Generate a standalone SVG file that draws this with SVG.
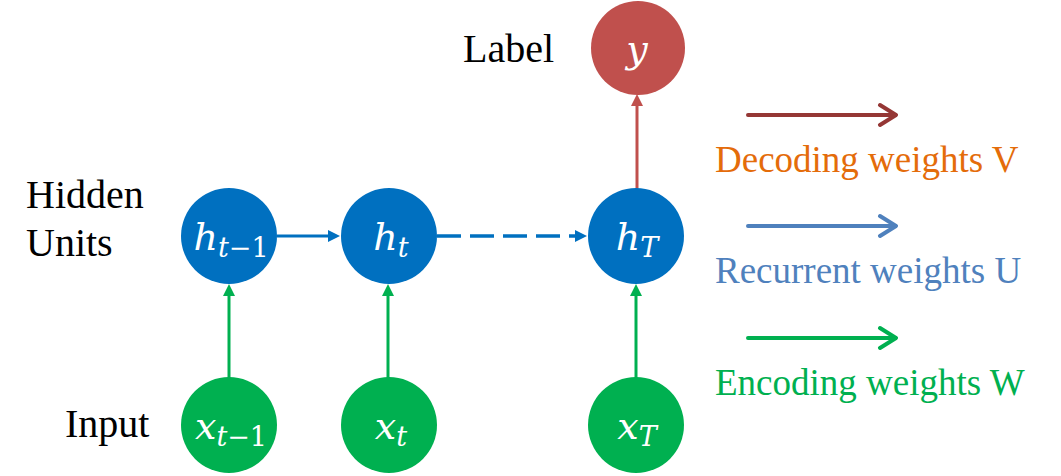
<svg xmlns="http://www.w3.org/2000/svg" width="1061" height="476" viewBox="0 0 1061 476">
<defs>
<style>
.lbl{font-size:40px;fill:#000}
.leg{font-size:37px}
.math{font-style:italic;font-size:38px;fill:#fff;text-anchor:middle}
.sub{font-size:27px}
.up{font-style:normal}
.hid{fill:#0070C0}
.inp{fill:#00B050}
.out{fill:#C0504D}
</style>
<marker id="mb" markerUnits="userSpaceOnUse" markerWidth="12" markerHeight="12" refX="4" refY="6" orient="auto"><path d="M0,0 L12,6 L0,12 z" fill="#0070C0"/></marker>
<marker id="mg" markerUnits="userSpaceOnUse" markerWidth="12" markerHeight="12" refX="4" refY="6" orient="auto"><path d="M0,0 L12,6 L0,12 z" fill="#00B050"/></marker>
<marker id="mr" markerUnits="userSpaceOnUse" markerWidth="12" markerHeight="12" refX="4" refY="6" orient="auto"><path d="M0,0 L12,6 L0,12 z" fill="#C0504D"/></marker>
</defs>
<rect width="1061" height="476" fill="#fff"/>

<g id="labels" font-family="Liberation Serif, Times New Roman, DejaVu Serif, serif">
<text class="lbl" x="463" y="62">Label</text>
<text class="lbl" x="26" y="208">Hidden</text>
<text class="lbl" x="26" y="256">Units</text>
<text class="lbl" x="65" y="437">Input</text>
</g>

<g id="connectors">
<line x1="277" y1="236" x2="332" y2="236" stroke="#0070C0" stroke-width="3" marker-end="url(#mb)"/>
<line x1="437" y1="236" x2="579" y2="236" stroke="#0070C0" stroke-width="3.3" stroke-dasharray="24 9" marker-end="url(#mb)"/>
<line x1="229" y1="378" x2="229" y2="292" stroke="#00B050" stroke-width="3" marker-end="url(#mg)"/>
<line x1="388" y1="378" x2="388" y2="292" stroke="#00B050" stroke-width="3" marker-end="url(#mg)"/>
<line x1="636" y1="378" x2="636" y2="292" stroke="#00B050" stroke-width="3" marker-end="url(#mg)"/>
<line x1="637" y1="189" x2="637" y2="102" stroke="#C0504D" stroke-width="3" marker-end="url(#mr)"/>
</g>

<g font-family="DejaVu Serif, Liberation Serif, serif">
<g id="node-y"><circle class="out" cx="638" cy="48" r="47"/><text class="math" x="637" y="62">y</text></g>
<g id="node-h1"><circle class="hid" cx="229" cy="236" r="48"/><text class="math" x="231" y="250">h<tspan class="sub" dy="7">t<tspan class="up">−1</tspan></tspan></text></g>
<g id="node-h2"><circle class="hid" cx="389" cy="236" r="48"/><text class="math" x="391" y="250">h<tspan class="sub" dy="7">t</tspan></text></g>
<g id="node-h3"><circle class="hid" cx="636" cy="236" r="48"/><text class="math" x="637" y="250">h<tspan class="sub" dy="7">T</tspan></text></g>
<g id="node-x1"><circle class="inp" cx="229" cy="425" r="48"/><text class="math" x="231" y="439">x<tspan class="sub" dy="7">t<tspan class="up">−1</tspan></tspan></text></g>
<g id="node-x2"><circle class="inp" cx="389" cy="425" r="48"/><text class="math" x="391" y="439">x<tspan class="sub" dy="7">t</tspan></text></g>
<g id="node-x3"><circle class="inp" cx="636" cy="425" r="48"/><text class="math" x="637" y="439">x<tspan class="sub" dy="7">T</tspan></text></g>
</g>

<g id="legend" fill="none" stroke-width="4" stroke-linecap="round" stroke-linejoin="round" font-family="Liberation Serif, Times New Roman, DejaVu Serif, serif">
<path d="M748,115 H895 M880,105 L896,115 L880,125" stroke="#953735"/>
<path d="M748,226 H895 M880,216 L896,226 L880,236" stroke="#4F81BD"/>
<path d="M748,338 H895 M880,328 L896,338 L880,348" stroke="#00B050"/>
<text class="leg" x="715" y="172" fill="#E46C0A" stroke="none">Decoding weights V</text>
<text class="leg" x="715" y="283" fill="#4F81BD" stroke="none">Recurrent weights U</text>
<text class="leg" x="715" y="395" fill="#00B050" stroke="none">Encoding weights W</text>
</g>
</svg>
